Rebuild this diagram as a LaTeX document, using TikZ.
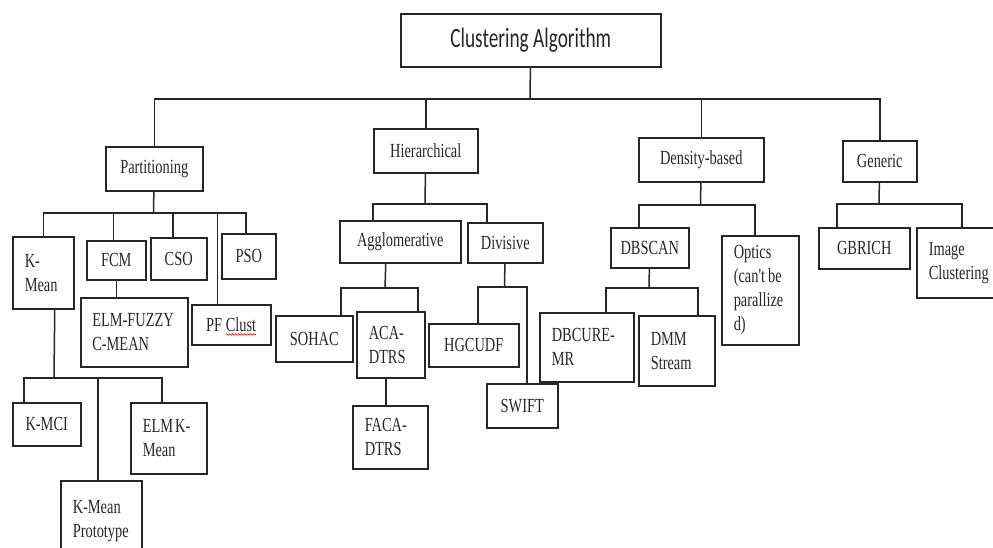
\documentclass[tikz,border=0pt]{standalone}
\usepackage{fontspec}
\usepackage{tikz}
\usetikzlibrary{decorations.pathmorphing}
\newfontfamily\boxfont{Liberation Serif}[FakeStretch=0.72]
\newfontfamily\rootfont{Carlito}[FakeStretch=0.69]

\begin{document}
\begin{tikzpicture}[x=1pt, y=-1pt, line width=1.5pt, color=black!85,
    box/.style={draw, anchor=north west, inner sep=0pt,
        font=\boxfont\fontsize{20}{24}\selectfont,
        execute at begin node={\hyphenpenalty=10000\exhyphenpenalty=10000}},
    cbox/.style={box, align=center},
    lbox/.style={box, align=left, inner xsep=12pt},
    squiggle/.style={draw=red!85!black, line width=0.6pt, decorate,
        decoration={snake, amplitude=0.8pt, segment length=3pt}}]

    \useasboundingbox (0,0) rectangle (993,547);
    \clip (0,0) rectangle (993,547);

    \node[cbox, font=\rootfont\fontsize{28}{32}\selectfont, minimum width=260pt, minimum height=53pt] (root) at (400,13) {Clustering Algorithm};

    \node[cbox, minimum width=97pt, minimum height=44pt] (part) at (105,146) {Partitioning};
    \node[cbox, minimum width=104pt, minimum height=44pt] (hier) at (373,128) {Hierarchical};
    \node[cbox, minimum width=125pt, minimum height=44pt] (dens) at (638,137) {Density-based};
    \node[cbox, minimum width=74pt, minimum height=41pt] (gen) at (842,140) {Generic};

    \node[lbox, text width=37pt, minimum height=72pt] (kmean) at (12,236) {K-\\Mean};
    \node[cbox, minimum width=59pt, minimum height=39pt] (fcm) at (86,240) {FCM};
    \node[cbox, minimum width=56pt, minimum height=42pt] (cso) at (150,237) {CSO};
    \node[cbox, minimum width=54pt, minimum height=45pt] (pso) at (221,233) {PSO};
    \node[cbox, minimum width=79pt, minimum height=40pt] (pfc) at (191,304) {PF Clust};
    \node[lbox, text width=84pt, inner xsep=11.5pt, minimum height=69pt] (elmf) at (80,297) {ELM-FUZZY\\C-MEAN};
    \node[cbox, minimum width=68pt, minimum height=43pt] (kmci) at (12,402) {K-MCI};
    \node[lbox, text width=52pt, minimum height=71pt] (elmk) at (130,402) {ELM\hspace{2pt}K-\\Mean};
    \node[lbox, text width=57pt, minimum height=80pt] (kproto) at (60,480) {K-Mean\\Prototype};

    \node[cbox, minimum width=121pt, minimum height=42pt] (aggl) at (339,220) {Agglomerative};
    \node[cbox, minimum width=75pt, minimum height=40pt] (divi) at (467,222) {Divisive};
    \node[cbox, minimum width=77pt, minimum height=46pt] (sohac) at (275,315) {SOHAC};
    \node[lbox, text width=44pt, minimum height=66pt] (aca) at (356,311) {ACA-\\DTRS};
    \node[lbox, text width=51pt, minimum height=63pt] (faca) at (352,405) {FACA-\\DTRS};
    \node[cbox, minimum width=90pt, minimum height=43pt] (hgcudf) at (428,323) {HGCUDF};
    \node[cbox, minimum width=71pt, minimum height=44pt] (swift) at (486,383) {SWIFT};

    \node[cbox, minimum width=78pt, minimum height=40pt] (dbscan) at (610,227) {DBSCAN};
    \node[lbox, text width=53pt, minimum height=109pt] (optics) at (721,235) {Optics\\(can't\hspace{3pt}be\\parallize\\d)};
    \node[lbox, text width=70pt, minimum height=69pt] (dbcure) at (539,312) {DBCURE-\\MR};
    \node[lbox, text width=52pt, minimum height=70pt] (dmm) at (638,315) {DMM\\Stream};

    \node[cbox, minimum width=91pt, minimum height=41pt] (gbrich) at (818,227) {GBRICH};
    \node[lbox, text width=66pt, minimum height=70pt] (imgc) at (916,227) {Image\\Clustering};

    \coordinate (j0) at (530,99);
    \draw (root) -- (j0);
    \draw (part) |- (j0) -| (gen);
    \draw (hier) -- (hier |- j0);
    \draw (dens) -- (dens |- j0);

    \coordinate (j1) at (153.5,213);
    \draw (part) -- (j1);
    \draw (kmean) |- (j1);
    \draw ([xshift=-3pt]fcm.north) |- (j1);
    \draw ([xshift=-6pt]cso.north) |- (j1);
    \draw ([xshift=-3pt]pso.north) |- (j1);
    \draw ([xshift=-14pt]pfc.north) |- (j1);
    \draw (fcm) -- (fcm |- elmf.north);
    \draw[squiggle] ([xshift=-5.5pt,yshift=11pt]pfc.south) -- ([xshift=24.5pt,yshift=11pt]pfc.south);

    \coordinate (j2) at (54,378);
    \draw ([xshift=11.5pt]kmean.south) -- (j2);
    \draw ([xshift=-23pt]kmci.north) |- (j2);
    \draw ([xshift=-7pt]elmk.north) |- (j2);
    \draw ([xshift=-3.5pt]kproto.north) |- (j2);

    \coordinate (j3) at (425,204);
    \draw (hier) -- (j3);
    \draw ([xshift=-27.5pt]aggl.north) |- (j3);
    \draw ([xshift=-18.5pt]divi.north) |- (j3);
    \coordinate (j4) at (385,288);
    \draw ([xshift=-14.5pt]aggl.south) -- (j4);
    \draw ([xshift=26.5pt]sohac.north) |- (j4);
    \draw ([xshift=27pt]aca.north) |- (j4);
    \draw ([xshift=-5pt]aca.south) -- ([xshift=-4.5pt]faca.north);
    \coordinate (j5) at (504.5,287);
    \draw (divi) -- (j5);
    \draw ([xshift=4pt]hgcudf.north) |- (j5);
    \draw ([xshift=4.5pt]swift.north) |- (j5);

    \coordinate (j6) at (700.5,205);
    \draw (dens) -- (j6);
    \draw ([xshift=-11pt]dbscan.north) |- (j6);
    \draw ([xshift=-5.5pt]optics.north) |- (j6);
    \coordinate (j7) at (649,288);
    \draw (dbscan) -- (j7);
    \draw ([xshift=19pt]dbcure.north) |- (j7);
    \draw ([xshift=21pt]dmm.north) |- (j7);

    \coordinate (j8) at (879,204);
    \draw (gen) -- (j8);
    \draw ([xshift=-27.5pt]gbrich.north) |- (j8);
    \draw (imgc) |- (j8);

\end{tikzpicture}
\end{document}
